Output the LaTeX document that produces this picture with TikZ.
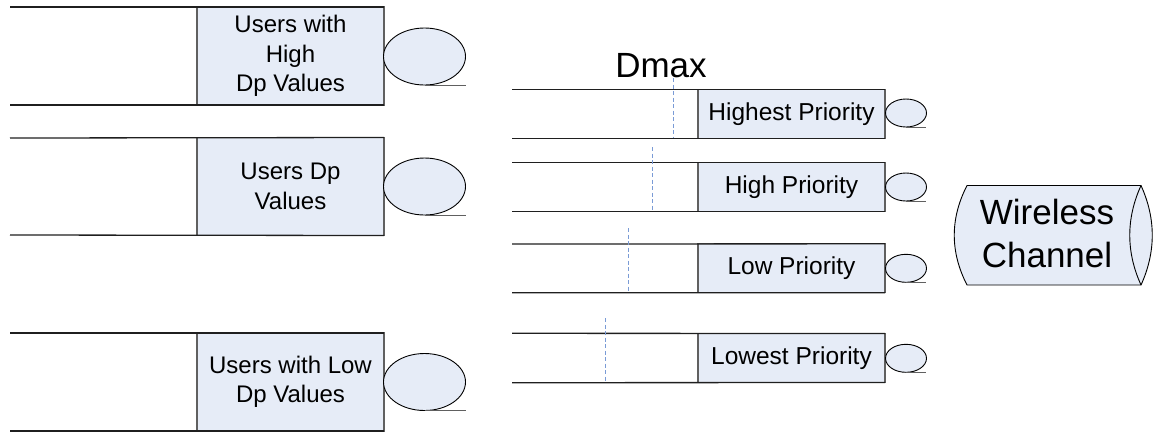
\documentclass[tikz,border=0pt]{standalone}
\usepackage{fontspec}
\setmainfont{Liberation Sans}
\usetikzlibrary{shapes.geometric}
\definecolor{boxblue}{HTML}{E6ECF7}
\definecolor{dashblue}{HTML}{7A9BD6}
\definecolor{edgegray}{HTML}{606060}
\tikzset{
  qline/.style={draw=black!88, line width=1.3pt},
  buf/.style={rectangle, draw=edgegray, fill=boxblue, line width=1.2pt,
    inner sep=0pt, outer sep=0pt, align=center},
  bigbuf/.style={buf, minimum width=187pt, minimum height=98pt,
    font=\fontsize{24}{29.5}\selectfont},
  smallbuf/.style={buf, minimum width=187pt, minimum height=49pt,
    font=\fontsize{24.5}{28}\selectfont},
  srv/.style={ellipse, draw=black, fill=boxblue, line width=0.9pt,
    inner sep=0pt, outer sep=0pt},
  bigsrv/.style={srv, minimum width=82pt, minimum height=57pt},
  smallsrv/.style={srv, minimum width=41pt, minimum height=28pt},
  tail/.style={draw=edgegray, line width=1pt},
  dmaxline/.style={draw=dashblue, line width=1pt, dash pattern=on 4pt off 2.5pt},
  label/.style={inner sep=0pt, align=center}
}
\begin{document}
\begin{tikzpicture}[x=1pt, y=-1pt]
\useasboundingbox (0,0) rectangle (1155,432);

% ---- left-hand user queues ----
\node[bigbuf] (ub1) at (290.5,56) {Users with\\High\\Dp Values};
\node[bigbuf] (ub2) at (290.5,186.5) {Users Dp\\Values};
\node[bigbuf] (ub3) at (290.5,382) {Users with Low\\Dp Values};
\foreach \q/\yt/\yb in {ub1/7/105, ub2/138/235, ub3/333/431}{
  \coordinate (\q-a) at (10,\yt);
  \coordinate (\q-b) at (10,\yb);
  \draw[qline] (\q-a) -- (\q.north east);
  \draw[qline] (\q-b) -- (\q.south east);
}
\node[bigsrv] (us1) at (424.5,56.5) {};
\node[bigsrv] (us2) at (424.5,186.5) {};
\node[bigsrv] (us3) at (424.5,382) {};
\foreach \s in {us1,us2,us3}{
  \coordinate (\s-t) at ([xshift=41pt]\s.south);
  \draw[tail] (\s.south) -- (\s-t);
}

% ---- right-hand priority queues ----
\node[smallbuf] (pb1) at (791.5,113.8) {Highest Priority};
\node[smallbuf] (pb2) at (791.5,187.2) {High Priority};
\node[smallbuf] (pb3) at (791.5,268.3) {Low Priority};
\node[smallbuf] (pb4) at (791.5,358) {Lowest Priority};
\foreach \q/\yt/\yb in {pb1/89.3/138.3, pb2/162.7/211.7, pb3/244/292.7, pb4/333.3/382.7}{
  \coordinate (\q-a) at (512,\yt);
  \coordinate (\q-b) at (512,\yb);
  \draw[qline] (\q-a) -- (\q.north east);
  \draw[qline] (\q-b) -- (\q.south east);
}
\node[smallsrv] (ps1) at (906,113) {};
\node[smallsrv] (ps2) at (906,187) {};
\node[smallsrv] (ps3) at (906,268.3) {};
\node[smallsrv] (ps4) at (906,358.3) {};
\foreach \s in {ps1,ps2,ps3,ps4}{
  \coordinate (\s-t) at ([xshift=20pt]\s.south);
  \draw[tail] (\s.south) -- (\s-t);
}

% ---- deadline markers ----
\node[label, font=\fontsize{35}{35}\selectfont, anchor=base] (dmax) at (661,77.5) {Dmax};
\coordinate (d1) at (673,78);
\coordinate (d2) at (652,147);
\coordinate (d3) at (628,228);
\coordinate (d4) at (605,318);
\draw[dmaxline] (d1) -- (d1 |- pb1.south);
\draw[dmaxline] (d2) -- (d2 |- pb2.south);
\draw[dmaxline] (d3) -- (d3 |- pb3.south);
\draw[dmaxline] (d4) -- (d4 |- pb4.south);

% ---- wireless channel (horizontal cylinder with lens-shaped ends) ----
\draw[fill=boxblue, line width=0.9pt, line join=miter]
  (967,185.5) -- (1141,185.5)
  .. controls (1156,218.5) and (1156,252) .. (1141,285)
  -- (967,285)
  .. controls (950,252) and (950,218.5) .. (967,185.5) -- cycle;
\draw[line width=0.9pt] (1141,185.5)
  .. controls (1126,218.5) and (1126,252) .. (1141,285);
\node[label, font=\fontsize{35}{43}\selectfont] (wc) at (1047,233) {Wireless\\Channel};
\end{tikzpicture}
\end{document}
